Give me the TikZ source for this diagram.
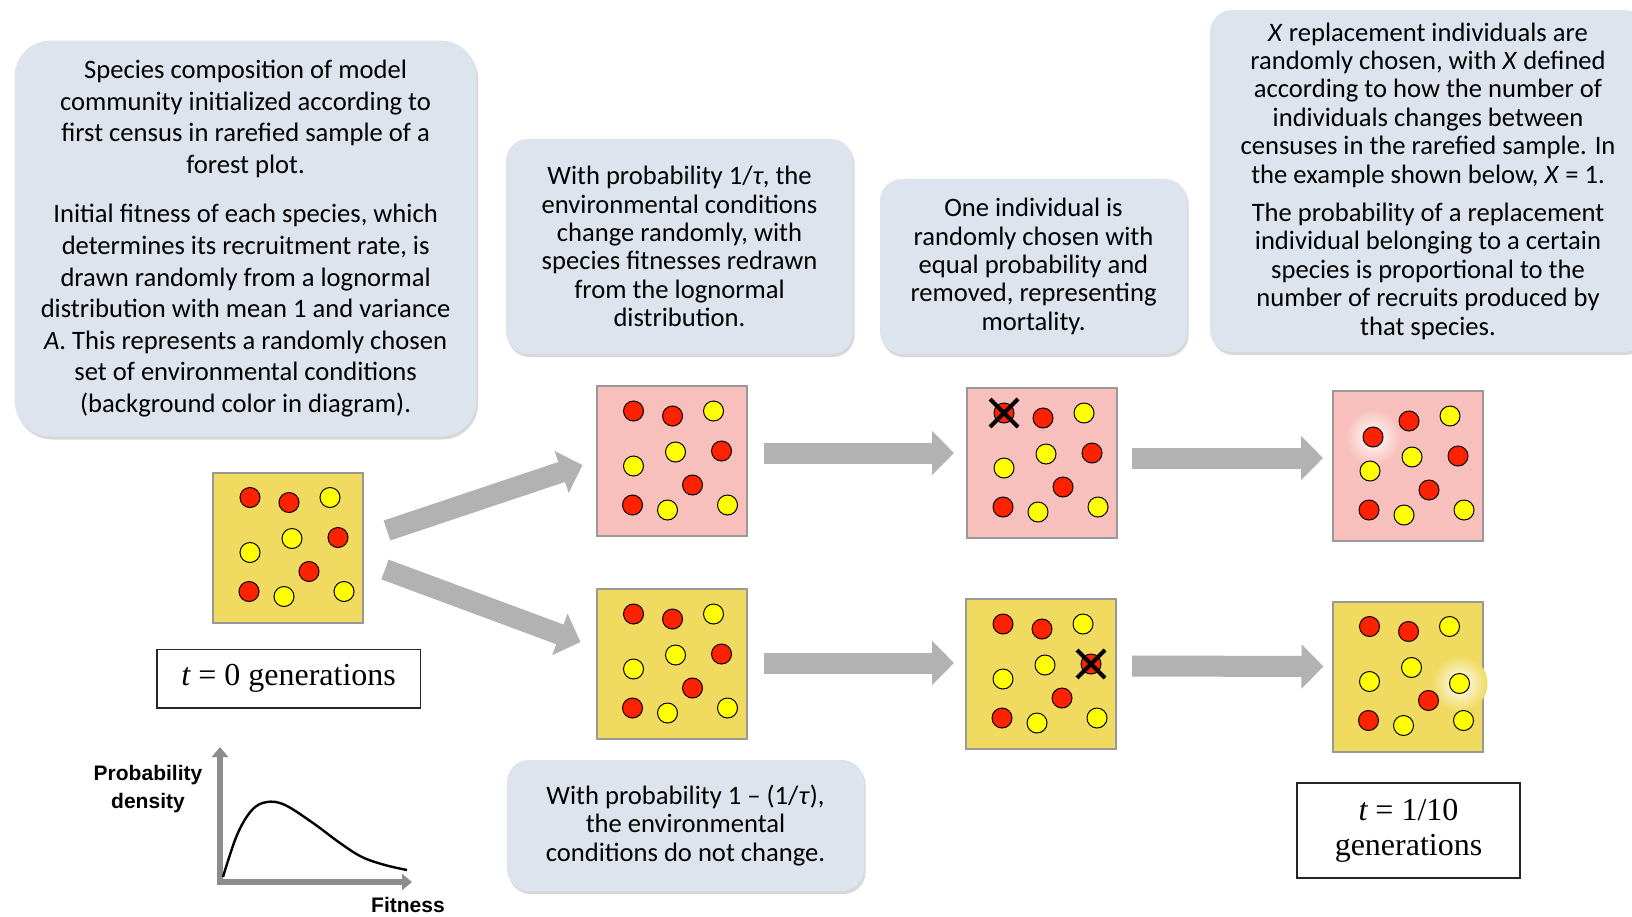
\documentclass[tikz,border=0pt]{standalone}
\usepackage{fontspec}
\setmainfont{Carlito}
\newfontfamily\timesfont{Liberation Serif}
\newfontfamily\arialfont{Liberation Sans}
\usetikzlibrary{arrows.meta, calc, shadows}

\definecolor{boxblue}{RGB}{221,228,238}
\definecolor{yelbg}{RGB}{240,218,96}
\definecolor{pinkbg}{RGB}{248,192,188}
\definecolor{reddot}{RGB}{255,34,0}
\definecolor{yeldot}{RGB}{255,255,0}
\definecolor{arrowgray}{RGB}{178,178,178}

\tikzset{
	infobox/.style={fill=boxblue, rounded corners=11pt, align=center, inner sep=0pt,
		drop shadow={opacity=0.3, shadow xshift=0.8pt, shadow yshift=-1.5pt},
		font=\fontsize{13.3}{14.2}\selectfont},
	patch/.style={draw=black!40, line width=1pt, minimum size=75pt, inner sep=0pt},
	indiv/.style={draw=black, line width=0.5pt},
	killmark/.style={draw=black, line width=2pt},
	fatarrow/.style={draw=arrowgray, line width=10.5pt, -{Triangle[length=11pt 0, width=21.5pt 0]}},
	axis/.style={draw=black!45, line width=3.2pt, line join=miter,
		{Triangle[length=5pt 0, width=8pt 0]}-{Triangle[length=5pt 0, width=8pt 0]}},
	axislabel/.style={font=\arialfont\bfseries\fontsize{10.5}{14}\selectfont, align=center},
	genbox/.style={draw=black!85, line width=0.7pt, inner sep=0pt, align=center,
		font=\timesfont\fontsize{16}{17.5}\selectfont}
}

% dots common to every plot; #2 is drawn first (glow, extra dot, cross)
\newcommand{\community}[2]{%
	\begin{scope}[shift={(#1.north west)}]
		#2
		\foreach \x/\y/\col in {77/31/reddot, 118/26/yeldot, 80/67/yeldot, 38/81/yeldot,
			97/100/reddot, 37/120/reddot, 72/125/yeldot, 132/120/yeldot}
			\filldraw[indiv, fill=\col] (\x,\y) circle (5pt);
	\end{scope}}

\begin{document}
\begin{tikzpicture}[x=0.5pt, y=-0.5pt]
	\useasboundingbox (0,0) rectangle (1632,916);
	\fill[white] (0,0) rectangle (1632,916);

	\node[infobox, rounded corners=18pt, minimum width=231pt, minimum height=198pt,
		font=\fontsize{13.3}{15.8}\selectfont] (start) at (245.6,238.5)
		{Species composition of model\\community initialized according to\\first census in rarefied sample of a\\forest plot.\\[9pt]
		Initial fitness of each species, which\\determines its recruitment rate, is\\drawn randomly from a lognormal\\distribution with mean 1 and variance\\\textit{A}. This represents a randomly chosen\\set of environmental conditions\\(background color in diagram).};
	\node[infobox, minimum width=173.5pt, minimum height=107.5pt] (change) at (679.5,246.5)
		{With probability 1/\textit{τ}, the\\environmental conditions\\change randomly, with\\species fitnesses redrawn\\from the lognormal\\distribution.};
	\node[infobox, minimum width=153.5pt, minimum height=87.5pt] (death) at (1033.5,266.5)
		{One individual is\\randomly chosen with\\equal probability and\\removed, representing\\mortality.};
	\node[infobox, minimum width=218pt, minimum height=171pt] (birth) at (1428,181)
		{\textit{X} replacement individuals are\\randomly chosen, with \textit{X} defined\\according to how the number of\\individuals changes between\\censuses in the rarefied sample. In\\the example shown below, \textit{X} = 1.\\[5pt]
		The probability of a replacement\\individual belonging to a certain\\species is proportional to the\\number of recruits produced by\\that species.};
	\node[infobox, minimum width=178.5pt, minimum height=65.5pt] (nochange) at (685.5,825.5)
		{With probability 1 – (1/\textit{τ}),\\the environmental\\conditions do not change.};

	\node[patch, fill=yelbg] (init) at (288,547.5) {};
	\node[patch, fill=pinkbg] (chg1) at (671.5,461) {};
	\node[patch, fill=yelbg] (same1) at (671.5,664) {};
	\node[patch, fill=pinkbg] (chg2) at (1042,463) {};
	\node[patch, fill=yelbg] (same2) at (1041,674) {};
	\node[patch, fill=pinkbg] (chg3) at (1408,466) {};
	\node[patch, fill=yelbg] (same3) at (1407.5,676.5) {};

	\community{init}{\filldraw[indiv, fill=reddot] (38,26) circle (5pt) (126,66) circle (5pt);}
	\community{chg1}{\filldraw[indiv, fill=reddot] (38,26) circle (5pt) (126,66) circle (5pt);}
	\community{same1}{\filldraw[indiv, fill=reddot] (38,26) circle (5pt) (126,66) circle (5pt);}
	\community{chg2}{\filldraw[indiv, fill=reddot] (38,26) circle (5pt) (126,66) circle (5pt);
		\draw[killmark] (24,12) -- (52,40) (24,40) -- (52,12);}
	\community{same2}{\filldraw[indiv, fill=reddot] (38,26) circle (5pt) (126,66) circle (5pt);
		\draw[killmark] (112,52) -- (140,80) (112,80) -- (140,52);}
	\community{chg3}{\shade[inner color=white, outer color=pinkbg] (41,47) circle (14pt);
		\filldraw[indiv, fill=reddot] (41,47) circle (5pt) (126,66) circle (5pt);}
	\community{same3}{\shade[inner color=white, outer color=yelbg] (128,83) circle (14pt);
		\filldraw[indiv, fill=yeldot] (128,83) circle (5pt);
		\filldraw[indiv, fill=reddot] (38,26) circle (5pt);}

	\draw[fatarrow] ($(init.east)+(23,-17)$) -- ($(chg1.west)+(-13,4)$);
	\draw[fatarrow] ($(init.east)+(21,22)$) -- ($(same1.west)+(-15,-22)$);
	\draw[fatarrow] ($(chg1.east)+(16,-8)$) -- ($(chg2.west)+(-12,-10)$);
	\draw[fatarrow] ($(chg2.east)+(14,-5)$) -- ($(chg3.west)+(-9,-8)$);
	\draw[fatarrow] ($(same1.east)+(16,-1)$) -- ($(same2.west)+(-11,-11)$);
	\draw[fatarrow] ($(same2.east)+(15,-8)$) -- ($(same3.west)+(-8,-10)$);

	\node[genbox, minimum width=131.75pt, minimum height=29.25pt] (gen0) at (288.7,678.7)
		{\raisebox{-2pt}{{\itshape t} = 0 generations}};
	\node[genbox, minimum width=111.5pt, minimum height=47.5pt] (gen1) at (1408.5,830.5)
		{{\itshape t} = 1/10\\generations};

	\coordinate (o) at (220,882);
	\coordinate (ytop) at (220,747);
	\coordinate (xend) at (412,882);
	\draw[axis] (ytop) -- (o) -- (xend);
	\draw[line width=1.2pt] plot[smooth, tension=0.6] coordinates {(223,877) (237,835) (252,810) (267,802)
		(285,805) (313,823) (340,843) (362,857) (385,865) (407,870)};
	\node[axislabel] (ylab) at (148,789) {Probability\\density};
	\node[axislabel] (xlab) at (408,905) {Fitness};
\end{tikzpicture}
\end{document}
